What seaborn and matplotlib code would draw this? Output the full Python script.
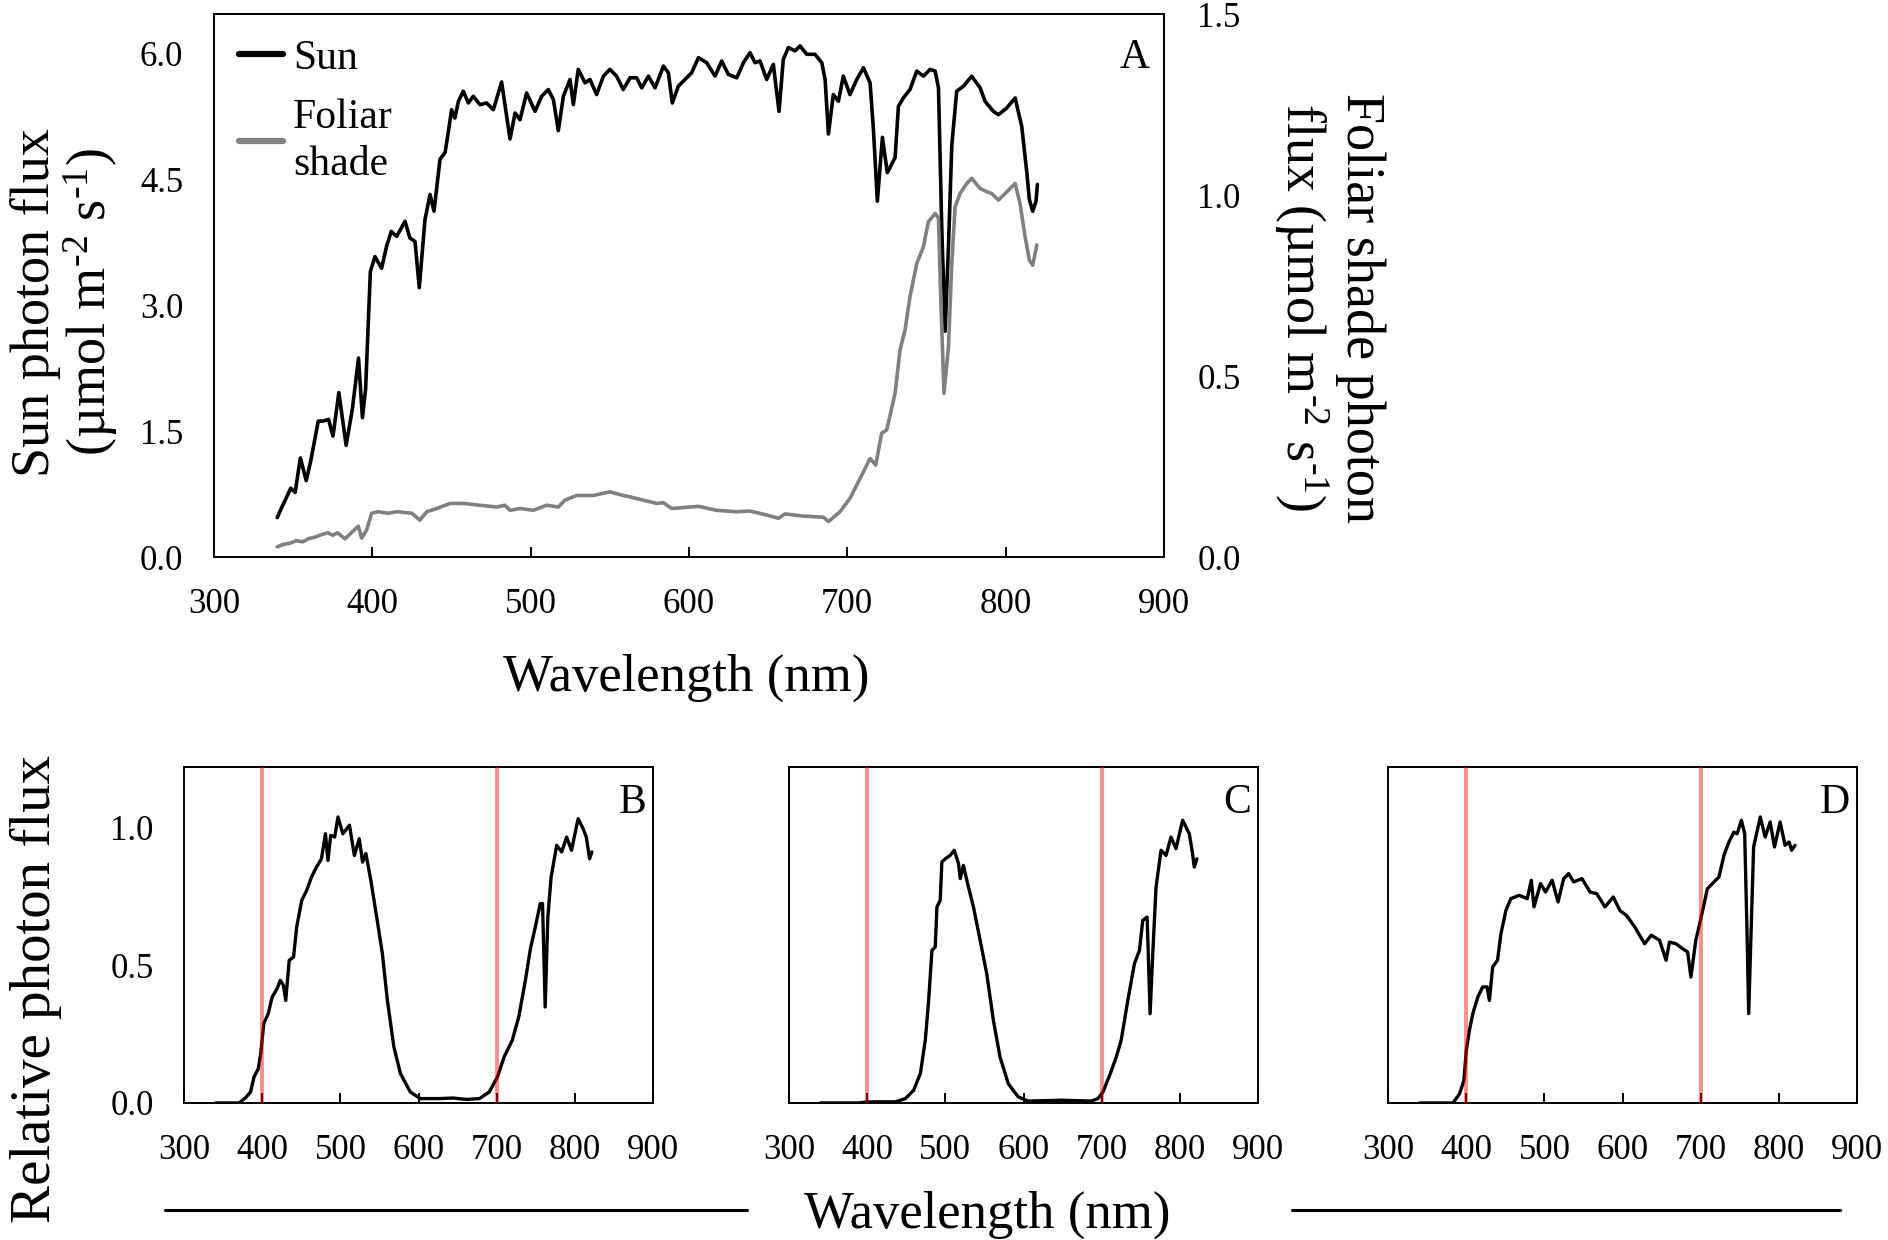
import matplotlib
matplotlib.use("Agg")
import matplotlib.pyplot as plt
from matplotlib.lines import Line2D
import seaborn as sns

# ---- data ----
sun_nm = [340, 342.8, 345.6, 348.5, 351.3, 354.6, 358.3, 361.1, 365.9, 369, 372.4, 375.2, 378.9,
          383.5, 387.5, 391.3, 393.8, 395.8, 398.8, 401.7, 405.9, 409, 412, 415.4, 420.7, 423.8,
          427, 429.7, 433.3, 436.5, 439, 442.8, 446, 448, 450.1, 452.2, 454.4, 457.5, 460.7,
          463.8, 468, 472.2, 476.5, 481.7, 484.9, 487, 490.2, 493.3, 497.5, 502.8, 507, 511.2,
          514.4, 517.5, 520.7, 524.9, 527, 530.1, 534.4, 537.5, 541.7, 546, 550.1, 554.3, 558.5,
          562.8, 567, 570.2, 574.4, 578.6, 583.9, 587, 589.5, 593.3, 597.5, 601.7, 606, 611.2,
          616.5, 620.7, 624.9, 630.2, 634.4, 638.6, 641.7, 644.9, 649.1, 653.3, 656.9, 659.6,
          662.8, 667, 670.2, 674.4, 679.6, 683.9, 686, 688.1, 691.2, 694.4, 697.5, 701.7, 706,
          710.2, 714.4, 716.5, 719, 722.2, 725.3, 730.2, 732.3, 735.4, 739.6, 743.9, 748.1,
          752.3, 755.5, 757.6, 759.7, 761.8, 763.9, 766, 769.1, 773.4, 778.6, 783.9, 787, 792.3,
          795.5, 800.7, 806, 810.2, 813.4, 815, 817.1, 819.2, 820.1]
sun_flux = [0.47, 0.59, 0.70, 0.82, 0.77, 1.18, 0.91, 1.14, 1.62, 1.62, 1.64, 1.44, 1.96,
            1.33, 1.77, 2.37, 1.66, 2.0, 3.40, 3.58, 3.44, 3.70, 3.88, 3.82, 4.0, 3.80,
            3.76, 3.21, 4.02, 4.32, 4.12, 4.74, 4.82, 5.06, 5.33, 5.23, 5.43, 5.55, 5.41,
            5.49, 5.39, 5.41, 5.33, 5.66, 5.25, 4.98, 5.29, 5.21, 5.53, 5.31, 5.49, 5.57,
            5.45, 5.08, 5.49, 5.69, 5.39, 5.81, 5.65, 5.69, 5.51, 5.73, 5.81, 5.73, 5.57,
            5.71, 5.71, 5.59, 5.73, 5.59, 5.85, 5.77, 5.41, 5.61, 5.69, 5.77, 5.95, 5.89,
            5.73, 5.91, 5.75, 5.71, 5.89, 6.01, 5.89, 5.91, 5.69, 5.87, 5.31, 5.93,
            6.07, 6.03, 6.09, 5.99, 5.99, 5.89, 5.69, 5.04, 5.51, 5.43, 5.73, 5.51, 5.69,
            5.83, 5.65, 5.10, 4.24, 5.0, 4.58, 4.76, 5.37, 5.47, 5.57, 5.79, 5.73,
            5.81, 5.79, 5.59, 3.90, 2.69, 3.70, 4.90, 5.55, 5.61, 5.73, 5.59, 5.43, 5.31,
            5.27, 5.35, 5.47, 5.13, 4.58, 4.26, 4.12, 4.24, 4.44]

shade_nm = [340, 344, 348, 352, 356, 360, 364, 368, 372, 375, 378, 382.8, 388, 391.2, 393.3,
            396.5, 399.6, 403.8, 410.1, 415.4, 424.9, 430.1, 434.4, 440.7, 449.1, 457.5, 468,
            478.6, 483.8, 487, 493.3, 501.7, 510.1, 517.5, 521.7, 529.1, 539.6, 550.1, 558.5,
            562.8, 571.2, 579.6, 583.9, 589.1, 600.7, 606, 617.5, 630.2, 638.6, 649.1, 656.5,
            660.7, 672.3, 684.9, 688.1, 695.4, 701.7, 708.1, 714.4, 718, 721.7, 724.9, 730.2,
            733.3, 736.5, 739.6, 743.9, 748.1, 751.2, 755.5, 757.6, 759, 761.1, 763.9, 766,
            768.1, 771.2, 775.5, 778.6, 783.9, 788.1, 791.2, 795.5, 799.7, 806, 809.1, 812.3,
            815, 817.1, 819.7]
shade_flux = [0.028, 0.035, 0.038, 0.045, 0.042, 0.051, 0.055, 0.062, 0.067, 0.060, 0.067,
              0.050, 0.072, 0.085, 0.052, 0.075, 0.121, 0.125, 0.121, 0.125, 0.121, 0.102,
              0.125, 0.134, 0.148, 0.148, 0.143, 0.138, 0.143, 0.129, 0.134, 0.129, 0.143,
              0.138, 0.157, 0.170, 0.170, 0.180, 0.170, 0.166, 0.157, 0.148, 0.150, 0.134,
              0.138, 0.140, 0.129, 0.125, 0.127, 0.116, 0.107, 0.119, 0.113, 0.110, 0.098,
              0.125, 0.162, 0.217, 0.272, 0.254, 0.342, 0.351, 0.452, 0.572, 0.627, 0.719,
              0.811, 0.857, 0.926, 0.949, 0.936, 0.719, 0.452, 0.581, 0.811, 0.967, 1.004,
              1.032, 1.046, 1.018, 1.009, 1.004, 0.986, 1.004, 1.032, 0.977, 0.885, 0.820,
              0.806, 0.862]

b_nm = [340, 370.5, 379, 385, 389.5, 395, 398, 402, 407.6, 412.6, 419, 423, 427, 430, 434.5,
        440, 444, 450.5, 456.8, 463, 469.4, 475.7, 480.8, 484, 487.5, 492.6, 496.8, 503, 511.5,
        517.8, 524, 528.3, 532.5, 538.8, 547, 553.6, 560, 568.3, 576.7, 589.3, 602, 627, 644,
        661, 677.7, 690.3, 700.8, 709.2, 719.7, 728, 736.5, 742.9, 749.2, 755.5, 758.4, 761.8,
        765.2, 769.4, 776.5, 782.9, 789.2, 795.5, 803.9, 810.2, 814.4, 818.6, 821.5]
b_flux = [0, 0, 0.02, 0.04, 0.095, 0.125, 0.18, 0.29, 0.325, 0.385, 0.416, 0.446, 0.428, 0.373,
          0.519, 0.531, 0.64, 0.737, 0.773, 0.822, 0.858, 0.888, 0.979, 0.882, 0.973, 0.967,
          1.04, 0.979, 1.01, 0.90, 0.961, 0.876, 0.907, 0.81, 0.664, 0.543, 0.373, 0.204,
          0.107, 0.04, 0.016, 0.016, 0.018, 0.013, 0.016, 0.04, 0.095, 0.167, 0.228, 0.313,
          0.446, 0.561, 0.64, 0.725, 0.725, 0.349, 0.676, 0.822, 0.937, 0.913, 0.967, 0.919,
          1.034, 0.998, 0.967, 0.888, 0.913]

c_nm = [340, 389, 400, 436, 448.8, 459.4, 468, 474.3, 478.6, 482.8, 487, 489.2, 493.4, 495.5,
        499.8, 506, 511.3, 516.8, 519, 523, 529.5, 535.9, 544.4, 552.9, 561.4, 569.9, 580.5,
        593.2, 606, 648.4, 686.6, 695, 701.5, 710, 718.5, 724.8, 733.3, 741.8, 748.2, 752.4,
        758, 761.8, 765.2, 769.4, 775.8, 782.2, 788.5, 794.9, 803.4, 811.9, 816.1, 818.3, 821.7]
c_flux = [0, 0, 0.004, 0.004, 0.016, 0.046, 0.107, 0.228, 0.373, 0.555, 0.567, 0.713, 0.737,
          0.876, 0.888, 0.90, 0.919, 0.870, 0.816, 0.864, 0.785, 0.713, 0.592, 0.47, 0.30,
          0.167, 0.07, 0.022, 0.007, 0.01, 0.007, 0.016, 0.04, 0.10, 0.167, 0.228, 0.373,
          0.507, 0.555, 0.664, 0.676, 0.325, 0.543, 0.785, 0.919, 0.90, 0.967, 0.925, 1.028,
          0.979, 0.907, 0.858, 0.888]

d_nm = [340, 383, 391.5, 397, 400, 404, 408.4, 414.8, 421, 426.6, 429.6, 433.8, 440, 444.4,
        450.7, 457, 467.6, 478, 483.2, 486.6, 495, 501.4, 509.8, 517.4, 524.6, 531, 537.3,
        547.9, 558.4, 566.9, 577.4, 588, 596.5, 604.9, 615.5, 628.1, 636.6, 647.1, 655.6,
        659.8, 668.3, 676.7, 683.1, 687.3, 693.6, 700, 708.4, 716.9, 723.2, 729.5, 735.9,
        742.2, 746.4, 751.9, 756.1, 759.1, 761.2, 764.2, 767.5, 776, 782.3, 788.7, 794.2,
        801.4, 807.7, 812.8, 816.1, 820.4]
d_flux = [0, 0, 0.034, 0.082, 0.19, 0.264, 0.325, 0.385, 0.422, 0.422, 0.373, 0.495, 0.519,
          0.616, 0.70, 0.743, 0.755, 0.743, 0.81, 0.713, 0.798, 0.767, 0.81, 0.731, 0.816,
          0.834, 0.804, 0.816, 0.767, 0.761, 0.713, 0.749, 0.70, 0.682, 0.64, 0.579, 0.61,
          0.592, 0.519, 0.585, 0.579, 0.561, 0.549, 0.458, 0.592, 0.67, 0.779, 0.804, 0.822,
          0.90, 0.949, 0.985, 0.979, 1.028, 0.979, 0.616, 0.325, 0.616, 0.931, 1.04, 0.967,
          1.022, 0.931, 1.022, 0.937, 0.949, 0.919, 0.937]

x_ticks = [300, 400, 500, 600, 700, 800, 900]
sun_ticks = [0.0, 1.5, 3.0, 4.5, 6.0]
shade_ticks = [0.0, 0.5, 1.0, 1.5]
rel_ticks = [0.0, 0.5, 1.0]
par_edges = [400, 700]

# ---- style ----
sns.set_style("white")
plt.rcParams["font.family"] = ["Liberation Serif", "DejaVu Serif"]
plt.rcParams["mathtext.fontset"] = "custom"
plt.rcParams["mathtext.rm"] = "Liberation Serif"
plt.rcParams["mathtext.it"] = "Liberation Serif:italic"
plt.rcParams["axes.edgecolor"] = "black"
plt.rcParams["axes.linewidth"] = 1.4
plt.rcParams["text.color"] = "black"
plt.rcParams["axes.labelcolor"] = "black"
plt.rcParams["xtick.color"] = "black"
plt.rcParams["ytick.color"] = "black"

TICK = 25
unit = r"(µmol m$^{\text{-2}}$ s$^{\text{-1}}$)"

fig = plt.figure(figsize=(18.88, 12.40), dpi=100)


def style_x(ax):
    ax.set_xlim(300, 900)
    ax.set_xticks(x_ticks)
    ax.tick_params(axis="x", direction="in", length=7, width=1.4, pad=22,
                   labelsize=TICK, bottom=True)


# Panel A
ax = fig.add_axes([0.1133, 0.5508, 0.5032, 0.4379])
sns.lineplot(x=sun_nm, y=sun_flux, ax=ax, color="black", lw=2.6,
             estimator=None, sort=False)
ax.set_ylim(0, 6.47)
ax.set_yticks(sun_ticks)
ax.set_yticklabels([f"{t:.1f}" for t in sun_ticks])
ax.tick_params(axis="y", length=0, pad=22, labelsize=TICK)
style_x(ax)

ax2 = ax.twinx()
sns.lineplot(x=shade_nm, y=shade_flux, ax=ax2, color="#808080", lw=2.6,
             estimator=None, sort=False)
ax2.set_ylim(0, 1.5)
ax2.set_yticks(shade_ticks)
ax2.set_yticklabels([f"{t:.1f}" for t in shade_ticks])
ax2.tick_params(axis="y", length=0, pad=24, labelsize=TICK)
ax2.set_ylabel("")
for sp in ax2.spines.values():
    sp.set_linewidth(1.4)
    sp.set_color("black")

handles = [Line2D([0], [0], color="black", lw=4.5),
           Line2D([0], [0], color="#808080", lw=4.5)]
leg = ax.legend(handles, ["Sun", "Foliar\nshade"], loc="upper left", frameon=False,
                fontsize=30, handlelength=1.05, handletextpad=0.25, labelspacing=0.5,
                borderaxespad=0.2, bbox_to_anchor=(0.0, 1.0))
for t in leg.get_texts():
    t.set_linespacing(1.3)
ax.text(0.985, 0.955, "A", transform=ax.transAxes, ha="right", va="top", fontsize=30)

fig.text(0.019, 0.756, "Sun photon flux", rotation=90, ha="center", va="center",
         fontsize=39)
fig.text(0.048, 0.756, unit, rotation=90, ha="center", va="center", fontsize=39)
fig.text(0.7205, 0.752, "Foliar shade photon", rotation=270, ha="center", va="center",
         fontsize=39)
fig.text(0.6895, 0.752, "flux " + unit, rotation=270, ha="center", va="center",
         fontsize=39)
fig.text(0.3635, 0.453, "Wavelength (nm)", ha="center", va="center", fontsize=38)

# Panels B, C, D
lefts = [0.0975, 0.4179, 0.7352]
series = [(b_nm, b_flux, "B"), (c_nm, c_flux, "C"), (d_nm, d_flux, "D")]
for i, (left, (nm, flux, tag)) in enumerate(zip(lefts, series)):
    axb = fig.add_axes([left, 0.1105, 0.2485, 0.271])
    sns.lineplot(x=nm, y=flux, ax=axb, color="black", lw=2.4,
                 estimator=None, sort=False)
    for edge in par_edges:
        axb.axvline(edge, color="red", alpha=0.45, lw=2.8, zorder=3)
    axb.set_ylim(0, 1.222)
    axb.set_yticks(rel_ticks)
    if i == 0:
        axb.set_yticklabels([f"{t:.1f}" for t in rel_ticks])
    else:
        axb.set_yticklabels([])
    axb.tick_params(axis="y", length=0, pad=22, labelsize=TICK)
    style_x(axb)
    axb.text(0.985, 0.95, tag, transform=axb.transAxes, ha="right", va="top",
             fontsize=30)

fig.text(0.019, 0.2025, "Relative photon flux", rotation=90, ha="center", va="center",
         fontsize=41)
fig.text(0.5228, 0.02, "Wavelength (nm)", ha="center", va="center", fontsize=38)
fig.add_artist(Line2D([0.0874, 0.3957], [0.0242, 0.0242], transform=fig.transFigure,
                      color="black", lw=2.2))
fig.add_artist(Line2D([0.6843, 0.9746], [0.0242, 0.0242], transform=fig.transFigure,
                      color="black", lw=2.2))

fig.savefig("out.png", dpi=100)
